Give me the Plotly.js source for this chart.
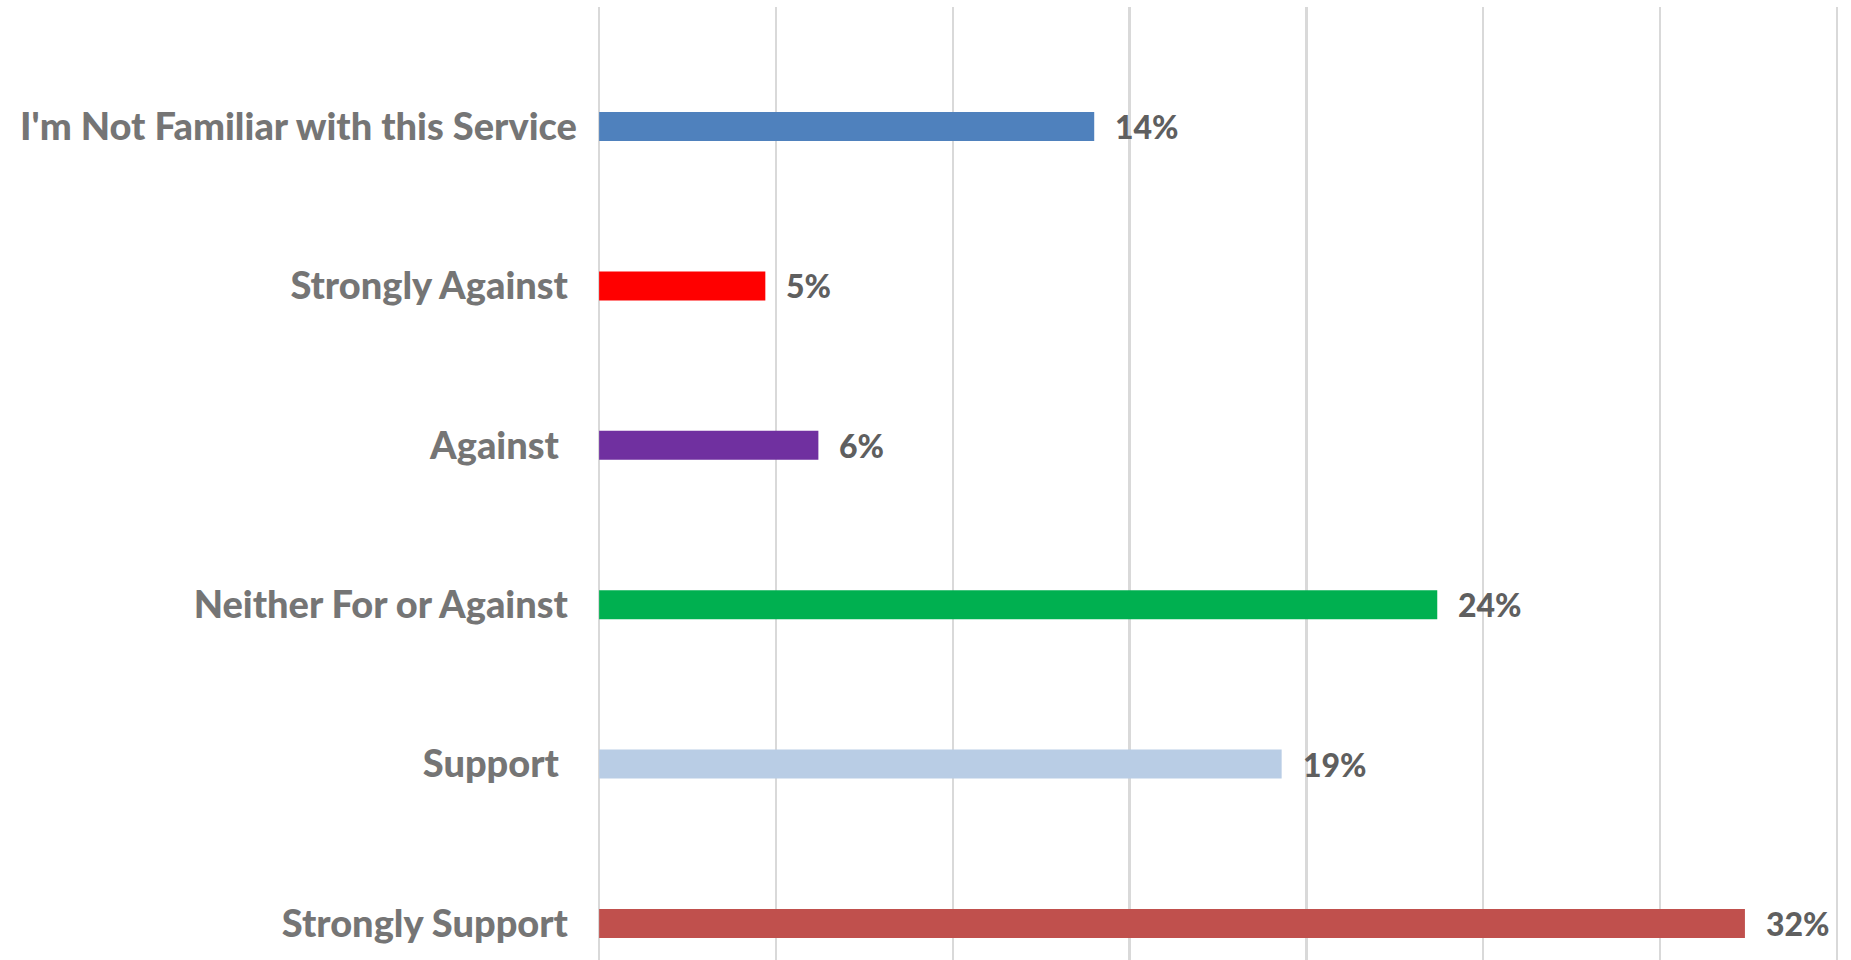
<!DOCTYPE html>
<html>
<head>
<meta charset="utf-8">
<script src="https://cdn.plot.ly/plotly-3.0.1.min.js"></script>
<style>
  html, body { margin: 0; padding: 0; background: #ffffff; }
  #chart { width: 1851px; height: 960px; }
</style>
</head>
<body>
<div id="chart"></div>
<script>
// Categories from bottom to top
const categories = [
  "Strongly Support\u00a0",
  "Support\u00a0\u00a0",
  "Neither For or Against\u00a0",
  "Against\u00a0\u00a0",
  "Strongly Against\u00a0",
  "I'm Not Familiar with this Service"
];
const values = [32.4, 19.3, 23.7, 6.2, 4.7, 14.0];
const valueLabels = ["32%", "19%", "24%", "6%", "5%", "14%"];
const barColors = ["#C0504D", "#B9CDE5", "#00B050", "#7030A0", "#FF0000", "#4F81BD"];
const xTicks = [0, 5, 10, 15, 20, 25, 30, 35];

const trace = {
  type: "bar",
  orientation: "h",
  y: categories,
  x: values,
  width: 0.182,
  marker: { color: barColors, line: { width: 0 } },
  hoverinfo: "none"
};

const annotations = values.map((v, i) => ({
  x: v,
  y: categories[i],
  xref: "x",
  yref: "y",
  text: valueLabels[i],
  showarrow: false,
  xanchor: "left",
  yanchor: "middle",
  xshift: 19,
  font: { family: "Lato", size: 32, color: "#5f5f5f", weight: 900 }
}));

const layout = {
  width: 1851,
  height: 960,
  margin: { l: 597, r: 12, t: 7, b: 0, pad: 0 },
  paper_bgcolor: "#ffffff",
  plot_bgcolor: "#ffffff",
  showlegend: false,
  font: { family: "Lato", size: 32, color: "#757575", weight: 900 },
  xaxis: {
    range: [-0.06, 35.06],
    tickvals: xTicks,
    showticklabels: false,
    showgrid: true,
    gridcolor: "#d9d9d9",
    gridwidth: 2.5,
    zeroline: false,
    showline: false,
    ticks: ""
  },
  yaxis: {
    type: "category",
    range: [-0.229, 5.75],
    showgrid: false,
    zeroline: false,
    showline: false,
    ticks: "",
    ticklabelstandoff: 19,
    tickfont: { family: "Lato", size: 38, color: "#757575", weight: 900 }
  },
  annotations: annotations
};

Plotly.newPlot("chart", [trace], layout, { staticPlot: true, displayModeBar: false });
</script>
</body>
</html>
